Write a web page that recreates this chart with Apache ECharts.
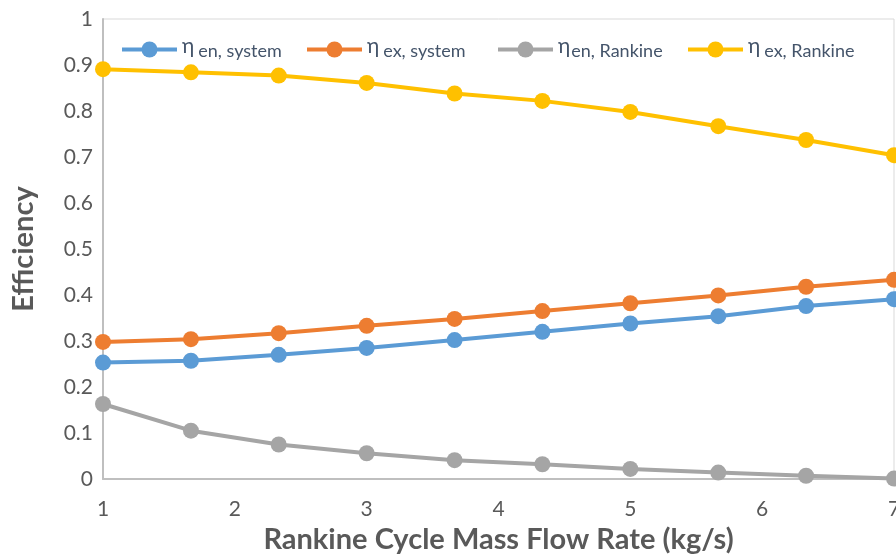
<!DOCTYPE html>
<html>
<head>
<meta charset="utf-8">
<script src="https://cdn.jsdelivr.net/npm/echarts@6/dist/echarts.min.js"></script>
<style>
  html, body { margin: 0; padding: 0; background: #ffffff; }
  #chart { width: 896px; height: 554px; }
</style>
</head>
<body>
<div id="chart"></div>
<script>
// Rankine cycle mass flow rate (kg/s)
const massFlow = [1, 1.667, 2.333, 3, 3.667, 4.333, 5, 5.667, 6.333, 7];

// Efficiencies
const etaEnSystem  = [0.253, 0.257, 0.270, 0.285, 0.302, 0.320, 0.338, 0.354, 0.376, 0.391];
const etaExSystem  = [0.298, 0.304, 0.317, 0.333, 0.348, 0.365, 0.382, 0.399, 0.418, 0.433];
const etaEnRankine = [0.163, 0.105, 0.075, 0.056, 0.041, 0.032, 0.022, 0.014, 0.007, 0.001];
const etaExRankine = [0.891, 0.884, 0.877, 0.861, 0.838, 0.822, 0.798, 0.767, 0.737, 0.704];

const seriesNames = ['η|en, system', 'η|ex, system', 'η|en, Rankine', 'η|ex, Rankine'];
const seriesData = [etaEnSystem, etaExSystem, etaEnRankine, etaExRankine];
const seriesColors = ['#5b9bd5', '#ed7d31', '#a5a5a5', '#ffc000'];
const legendLeft = [115, 300, 491, 681];
const etaGap = [4, 4, 1, 4];

const FONT = 'Lato, "Open Sans", sans-serif';

const chart = echarts.init(document.getElementById('chart'), null, { renderer: 'canvas' });

const series = seriesNames.map((name, i) => ({
  name: name,
  type: 'line',
  data: massFlow.map((x, j) => [x, seriesData[i][j]]),
  symbol: 'circle',
  symbolSize: 16,
  showSymbol: true,
  lineStyle: { width: 4, color: seriesColors[i] },
  itemStyle: { color: seriesColors[i] },
  z: 2 + (i === 3 ? 1 : 0),
  animation: false
}));

// one legend block per series so each entry sits at its own position
const legends = seriesNames.map((name, i) => ({
  top: 31,
  left: legendLeft[i],
  itemWidth: 55,
  itemHeight: 20,
  data: [name],
  lineStyle: { width: 4 },
  formatter: function (n) {
    const parts = n.split('|');
    return '{eta|' + parts[0] + '}{sub|' + parts[1] + '}';
  },
  textStyle: {
    fontFamily: FONT,
    color: '#44546a',
    rich: {
      eta: { fontSize: 21, color: '#44546a', fontFamily: FONT, padding: [0, etaGap[i], 6, 0] },
      sub: { fontSize: 18, color: '#44546a', fontFamily: FONT, padding: [4, 0, 0, 0] }
    }
  }
}));

chart.setOption({
  animation: false,
  backgroundColor: '#ffffff',
  grid: {
    left: 103, right: 2, top: 19, bottom: 75,
    outerBoundsMode: 'none',
    containLabel: false,
    show: true, borderColor: '#d9d9d9', borderWidth: 1
  },
  legend: legends,
  xAxis: {
    type: 'value',
    min: 1, max: 7, interval: 1,
    name: 'Rankine Cycle Mass Flow Rate (kg/s)',
    nameLocation: 'middle',
    nameGap: 42,
    nameTextStyle: { fontFamily: FONT, fontSize: 29, fontWeight: 'bold', color: '#595959' },
    axisLine: { show: true, lineStyle: { color: '#bfbfbf', width: 2 } },
    axisTick: { show: false },
    splitLine: { show: false },
    axisLabel: { fontFamily: FONT, fontSize: 21, color: '#595959', margin: 20 }
  },
  yAxis: {
    type: 'value',
    min: 0, max: 1, interval: 0.1,
    name: 'Efficiency',
    nameLocation: 'middle',
    nameGap: 65,
    nameTextStyle: { fontFamily: FONT, fontSize: 29, fontWeight: 'bold', color: '#595959' },
    axisLine: { show: true, lineStyle: { color: '#bfbfbf', width: 2 } },
    axisTick: { show: false },
    splitLine: { show: false },
    axisLabel: {
      fontFamily: FONT, fontSize: 21, color: '#595959', margin: 10,
      formatter: v => String(Math.round(v * 10) / 10)
    }
  },
  series: series
});
</script>
</body>
</html>
